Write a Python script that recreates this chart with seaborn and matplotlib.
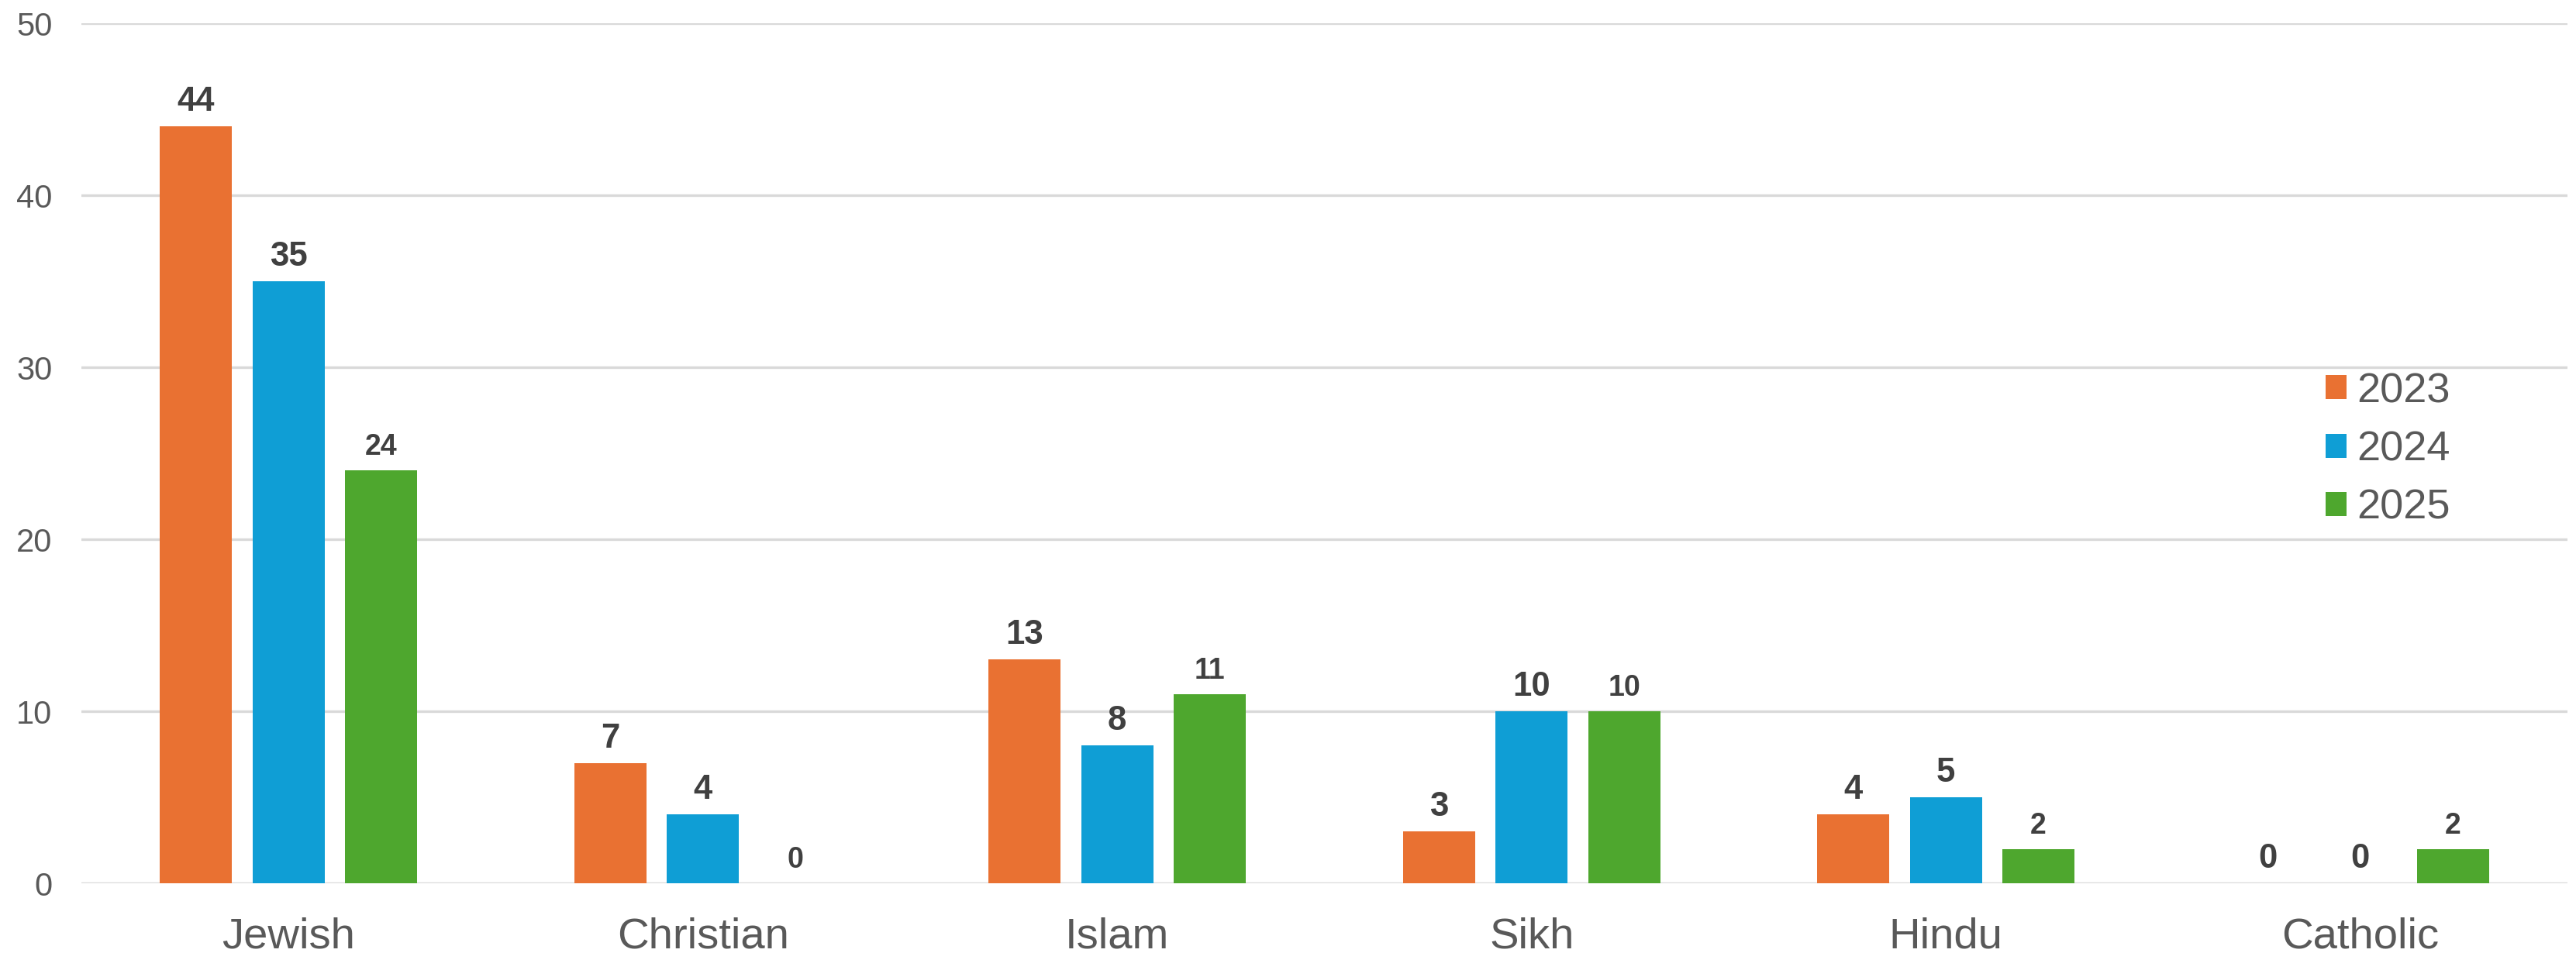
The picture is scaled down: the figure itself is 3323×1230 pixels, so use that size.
import pandas as pd
import matplotlib
matplotlib.use("Agg")
import matplotlib.pyplot as plt
import seaborn as sns

religions = ["Jewish", "Christian", "Islam", "Sikh", "Hindu", "Catholic"]
years     = ["2023", "2024", "2025"]
v2023     = [44, 7, 13, 3, 4, 0]
v2024     = [35, 4, 8, 10, 5, 0]
v2025     = [24, 0, 11, 10, 2, 2]

ORANGE = "#E97132"
BLUE   = "#0F9ED5"
GREEN  = "#4EA72E"
TEXT   = "#595959"
LABEL  = "#404040"
GRID   = "#D9D9D9"

df = pd.DataFrame({
    "religion": religions * 3,
    "year"    : [y for y in years for _ in religions],
    "count"   : v2023 + v2024 + v2025,
})

sns.set_style("white")
plt.rcParams["font.family"] = ["Liberation Sans", "DejaVu Sans"]

fig = plt.figure(figsize=(3323 / 300, 1230 / 300), dpi=300)
ax = fig.add_axes([105 / 3323, 1 - 1140 / 1230, 3207 / 3323, 1110 / 1230])

sns.barplot(data=df, x="religion", y="count", hue="year",
            palette=[ORANGE, BLUE, GREEN], saturation=1,
            width=0.67, gap=0.22, linewidth=0, ax=ax)

ax.set_ylim(0, 50)
ax.set_xlim(-0.5, 5.5)
ax.set_yticks(range(0, 51, 10))
ax.yaxis.grid(True, color=GRID, lw=0.8)
ax.set_axisbelow(True)
for s in ax.spines.values():
    s.set_visible(False)
ax.set_xlabel("")
ax.set_ylabel("")
ax.tick_params(axis="y", length=0, pad=9, labelsize=10, labelcolor=TEXT)
ax.tick_params(axis="x", length=0, pad=10.5, labelsize=13.5, labelcolor=TEXT)

# value labels, green series a bit smaller like the original
sizes = [10.5, 10.5, 9]
for cont, fs in zip(ax.containers, sizes):
    for bar in cont:
        h = bar.get_height()
        ax.annotate(f"{h:.0f}", (bar.get_x() + bar.get_width() / 2, h),
                    xytext=(0, 4.8), textcoords="offset points",
                    ha="center", va="baseline", fontsize=fs,
                    fontweight="bold", color=LABEL)

handles, labels = ax.get_legend_handles_labels()
ax.legend(handles, labels, loc="upper left",
          bbox_to_anchor=(3000 / 3323, 1 - 480 / 1230),
          bbox_transform=fig.transFigure, frameon=False,
          fontsize=13, labelcolor=TEXT, handlelength=0.5, handleheight=0.5,
          handletextpad=0.25, labelspacing=0.47, borderpad=0, borderaxespad=0)

fig.savefig("out.png", dpi=300)
